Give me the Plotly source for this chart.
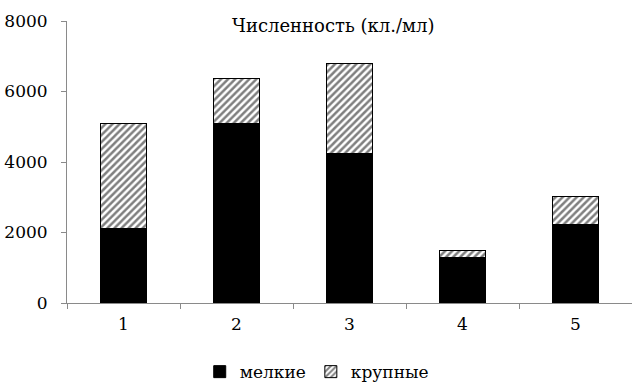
import plotly.graph_objects as go

# Sampling points and cell counts (cells/ml)
categories = ["1", "2", "3", "4", "5"]
small_cells = [2100, 5100, 4230, 1300, 2230]
large_cells = [2980, 1270, 2570, 180, 800]

title_text = "Численность (кл./мл)"
y_ticks = [0, 2000, 4000, 6000, 8000]

font_family = "DejaVu Serif"
axis_color = "#8a8a8a"

fig = go.Figure()
fig.add_trace(go.Bar(
    x=categories, y=small_cells, name="мелкие",
    marker=dict(color="black", line=dict(color="black", width=1)),
    width=0.41,
))
fig.add_trace(go.Bar(
    x=categories, y=large_cells, name="крупные",
    marker=dict(
        color="white",
        line=dict(color="black", width=1),
        pattern=dict(shape="/", fgcolor="black", bgcolor="white",
                     size=5, solidity=0.5, fillmode="overlay"),
    ),
    width=0.41,
))

fig.update_layout(
    barmode="stack",
    width=632, height=384,
    margin=dict(l=67, r=0, t=21, b=81, autoexpand=False),
    paper_bgcolor="white", plot_bgcolor="white",
    font=dict(family=font_family, size=17, color="black"),
    showlegend=True,
    legend=dict(orientation="h", x=0.442, xanchor="center", y=-0.245, yanchor="middle",
                itemwidth=30, tracegroupgap=0, traceorder="normal"),
    annotations=[dict(text=title_text, xref="paper", yref="paper",
                      x=0.47, y=0.985, xanchor="center", yanchor="middle",
                      showarrow=False, font=dict(size=18))],
)
fig.update_xaxes(
    type="category", range=[-0.5, 4.5],
    showline=True, linecolor=axis_color, linewidth=1,
    ticks="outside", tickson="boundaries", ticklen=5, tickcolor=axis_color,
    showgrid=False, zeroline=False, ticklabelstandoff=6,
)
fig.update_yaxes(
    range=[0, 8000], tickvals=y_ticks,
    showline=True, linecolor=axis_color, linewidth=1,
    ticks="outside", ticklen=5, tickcolor=axis_color,
    showgrid=False, zeroline=False, ticklabelstandoff=10,
)

fig.write_html("out.html")
